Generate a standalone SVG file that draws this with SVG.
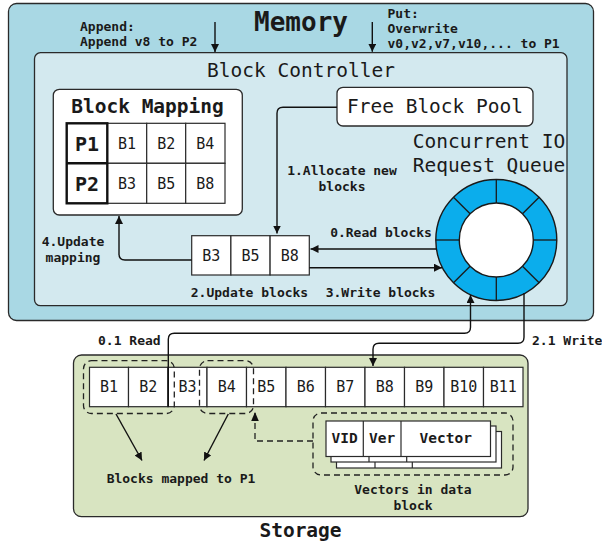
<svg xmlns="http://www.w3.org/2000/svg" width="602" height="546" viewBox="0 0 602 546">
<defs>
<marker id="ah" viewBox="0 0 10 10" refX="10" refY="5" markerWidth="8" markerHeight="8" markerUnits="userSpaceOnUse" orient="auto">
<path d="M0,0 L10,5 L0,10 z" fill="#111"/>
</marker>
<style>
text{font-family:"DejaVu Sans Mono","Liberation Mono",monospace;fill:#1a1a1a;dominant-baseline:central}
.lbl{font-size:13px;font-weight:bold}
.cell{font-size:15px;text-anchor:middle}
.box{stroke:#2a2a2a;stroke-width:1.3}
.wc{fill:#fff;stroke:#2a2a2a;stroke-width:1.2}
.con{fill:none;stroke:#111;stroke-width:1.4}
.dash{fill:none;stroke:#222;stroke-width:1.3;stroke-dasharray:6 4}
</style>
</defs>

<g id="memory">
<rect class="box" x="8.5" y="3.5" width="585" height="317" rx="8" fill="#a9d8e4"/>
<text x="301" y="21.5" font-size="26" font-weight="bold" text-anchor="middle">Memory</text>
<text class="lbl" x="80" y="26">Append:</text>
<text class="lbl" x="80" y="41.7">Append v8 to P2</text>
<text class="lbl" x="387.5" y="13.5">Put:</text>
<text class="lbl" x="387.5" y="28.7">Overwrite</text>
<text class="lbl" x="387.5" y="43.9">v0,v2,v7,v10,... to P1</text>
</g>

<g id="block-controller">
<rect class="box" x="34.5" y="52.7" width="532.5" height="253" rx="6" fill="#d3e9ef"/>
<text x="301" y="70" font-size="19.5" text-anchor="middle">Block Controller</text>
</g>

<g id="block-mapping">
<rect class="box" x="53.3" y="89.3" width="189" height="125.7" rx="6" fill="#fff"/>
<text x="147.5" y="106.7" font-size="19.5" font-weight="bold" text-anchor="middle">Block Mapping</text>
<rect class="wc" x="107.3" y="123.3" width="39.4" height="40"/>
<rect class="wc" x="146.7" y="123.3" width="39" height="40"/>
<rect class="wc" x="185.7" y="123.3" width="39.3" height="40"/>
<rect class="wc" x="107.3" y="163.3" width="39.4" height="40"/>
<rect class="wc" x="146.7" y="163.3" width="39" height="40"/>
<rect class="wc" x="185.7" y="163.3" width="39.3" height="40"/>
<rect x="66.7" y="123.3" width="40.6" height="80" fill="#fff" stroke="#111" stroke-width="2.4"/>
<line x1="66.7" y1="163.3" x2="107.3" y2="163.3" stroke="#111" stroke-width="2.4"/>
<text x="87" y="143.5" font-size="20" font-weight="bold" text-anchor="middle">P1</text>
<text x="87" y="183.5" font-size="20" font-weight="bold" text-anchor="middle">P2</text>
<text class="cell" x="127" y="143.5">B1</text>
<text class="cell" x="166.2" y="143.5">B2</text>
<text class="cell" x="205.3" y="143.5">B4</text>
<text class="cell" x="127" y="183.5">B3</text>
<text class="cell" x="166.2" y="183.5">B5</text>
<text class="cell" x="205.3" y="183.5">B8</text>
</g>

<g id="free-block-pool">
<rect class="box" x="337" y="87.3" width="196" height="38.7" rx="6" fill="#fff"/>
<text x="435" y="106.7" font-size="19.5" text-anchor="middle">Free Block Pool</text>
</g>

<g id="io-queue">
<text x="489" y="141.7" font-size="19.5" text-anchor="middle">Concurrent IO</text>
<text x="489" y="165" font-size="19.5" text-anchor="middle">Request Queue</text>
<circle cx="496.3" cy="240" r="60.5" fill="#0badec" stroke="#1a1a1a" stroke-width="1.4"/>
<g stroke="#1a1a1a" stroke-width="1.3">
<line x1="533.3" y1="240" x2="556.8" y2="240"/>
<line x1="459.3" y1="240" x2="435.8" y2="240"/>
<line x1="496.3" y1="203" x2="496.3" y2="179.5"/>
<line x1="496.3" y1="277" x2="496.3" y2="300.5"/>
<line x1="522.5" y1="213.8" x2="539.1" y2="197.2"/>
<line x1="470.1" y1="213.8" x2="453.5" y2="197.2"/>
<line x1="522.5" y1="266.2" x2="539.1" y2="282.8"/>
<line x1="470.1" y1="266.2" x2="453.5" y2="282.8"/>
</g>
<circle cx="496.3" cy="240" r="37" fill="#fff" stroke="#1a1a1a" stroke-width="1.4"/>
</g>

<g id="update-blocks">
<rect class="wc" x="191.7" y="235.7" width="39.2" height="39.3"/>
<rect class="wc" x="230.9" y="235.7" width="39.2" height="39.3"/>
<rect class="wc" x="270.1" y="235.7" width="39.2" height="39.3"/>
<text class="cell" x="211.3" y="255.5">B3</text>
<text class="cell" x="250.5" y="255.5">B5</text>
<text class="cell" x="289.7" y="255.5">B8</text>
</g>

<g id="storage">
<rect class="box" x="73.5" y="355" width="454.5" height="161.7" rx="8" fill="#d8e4c1"/>
<text x="300.5" y="530.5" font-size="19.5" font-weight="bold" text-anchor="middle">Storage</text>
<g>
<rect class="wc" x="89.5" y="367.3" width="39" height="39.4"/>
<rect class="wc" x="128.5" y="367.3" width="39.5" height="39.4"/>
<rect class="wc" x="168" y="367.3" width="39" height="39.4"/>
<rect class="wc" x="207" y="367.3" width="39.5" height="39.4"/>
<rect class="wc" x="246.5" y="367.3" width="39.5" height="39.4"/>
<rect class="wc" x="286" y="367.3" width="39.5" height="39.4"/>
<rect class="wc" x="325.5" y="367.3" width="39.5" height="39.4"/>
<rect class="wc" x="365" y="367.3" width="39.5" height="39.4"/>
<rect class="wc" x="404.5" y="367.3" width="39.5" height="39.4"/>
<rect class="wc" x="444" y="367.3" width="39.5" height="39.4"/>
<rect class="wc" x="483.5" y="367.3" width="39.5" height="39.4"/>
<text class="cell" x="109" y="387">B1</text>
<text class="cell" x="148.2" y="387">B2</text>
<text class="cell" x="187.5" y="387">B3</text>
<text class="cell" x="226.7" y="387">B4</text>
<text class="cell" x="266.2" y="387">B5</text>
<text class="cell" x="305.7" y="387">B6</text>
<text class="cell" x="345.2" y="387">B7</text>
<text class="cell" x="384.7" y="387">B8</text>
<text class="cell" x="424.2" y="387">B9</text>
<text class="cell" x="463.7" y="387">B10</text>
<text class="cell" x="503.2" y="387">B11</text>
</g>
<rect class="dash" x="83.5" y="360.7" width="90.8" height="52.8" rx="8"/>
<rect class="dash" x="199.5" y="360.7" width="54" height="52.8" rx="8"/>
<text class="lbl" x="181" y="478" text-anchor="middle">Blocks mapped to P1</text>
</g>

<g id="vectors">
<rect class="dash" x="313" y="413" width="200" height="62" rx="8"/>
<rect class="wc" x="336.5" y="431.5" width="165" height="36.5"/>
<line x1="375" y1="431.5" x2="375" y2="468" stroke="#2a2a2a" stroke-width="1.2"/>
<line x1="412.3" y1="431.5" x2="412.3" y2="468" stroke="#2a2a2a" stroke-width="1.2"/>
<rect class="wc" x="331" y="426" width="165" height="36"/>
<line x1="369" y1="426" x2="369" y2="462" stroke="#2a2a2a" stroke-width="1.2"/>
<line x1="406.7" y1="426" x2="406.7" y2="462" stroke="#2a2a2a" stroke-width="1.2"/>
<rect class="wc" x="326" y="421" width="164.5" height="35.5"/>
<line x1="363.3" y1="421" x2="363.3" y2="456.5" stroke="#2a2a2a" stroke-width="1.2"/>
<line x1="401" y1="421" x2="401" y2="456.5" stroke="#2a2a2a" stroke-width="1.2"/>
<text x="344.7" y="438" font-size="14.5" font-weight="bold" text-anchor="middle">VID</text>
<text x="382.2" y="438" font-size="14.5" font-weight="bold" text-anchor="middle">Ver</text>
<text x="445.7" y="438" font-size="14.5" font-weight="bold" text-anchor="middle">Vector</text>
<text class="lbl" x="413" y="489" text-anchor="middle">Vectors in data</text>
<text class="lbl" x="413" y="505" text-anchor="middle">block</text>
</g>

<g id="connectors">
<path class="con" d="M215,22 V52" marker-end="url(#ah)"/>
<path class="con" d="M372.3,22 V51.7" marker-end="url(#ah)"/>
<path class="con" d="M337,107.3 H283 Q277,107.3 277,113.3 V233.5" marker-end="url(#ah)"/>
<path class="con" d="M436.5,249 H310.5" marker-end="url(#ah)"/>
<path class="con" d="M309.3,267.7 H442" marker-end="url(#ah)"/>
<path class="con" d="M191.7,260 H125 Q119,260 119,254 V216" marker-end="url(#ah)"/>
<path class="con" d="M168.3,406.7 V339.3 Q168.3,333.3 174.3,333.3 H464.5 Q470.5,333.3 470.5,327.3 V295" marker-end="url(#ah)"/>
<path class="con" d="M524,293 V337.3 Q524,343.3 518,343.3 H379 Q373,343.3 373,349.3 V366" marker-end="url(#ah)"/>
<path class="con" d="M116,414 L142,460.5" marker-end="url(#ah)"/>
<path class="con" d="M228.3,414 L204,460.5" marker-end="url(#ah)"/>
<path class="dash" d="M313,441 H255 V412" stroke-dasharray="6 5"/>
<path d="M255,412 L251.2,421 L258.8,421 z" fill="#111"/>
<text class="lbl" x="342" y="170.7" text-anchor="middle">1.Allocate new</text>
<text class="lbl" x="342" y="186" text-anchor="middle">blocks</text>
<text class="lbl" x="381" y="232.7" text-anchor="middle">0.Read blocks</text>
<text class="lbl" x="249.5" y="292.5" text-anchor="middle">2.Update blocks</text>
<text class="lbl" x="380.5" y="292.5" text-anchor="middle">3.Write blocks</text>
<text class="lbl" x="73" y="241.7" text-anchor="middle">4.Update</text>
<text class="lbl" x="73" y="257" text-anchor="middle">mapping</text>
<text class="lbl" x="98" y="340.7">0.1 Read</text>
<text class="lbl" x="532" y="340.7">2.1 Write</text>
</g>
</svg>
